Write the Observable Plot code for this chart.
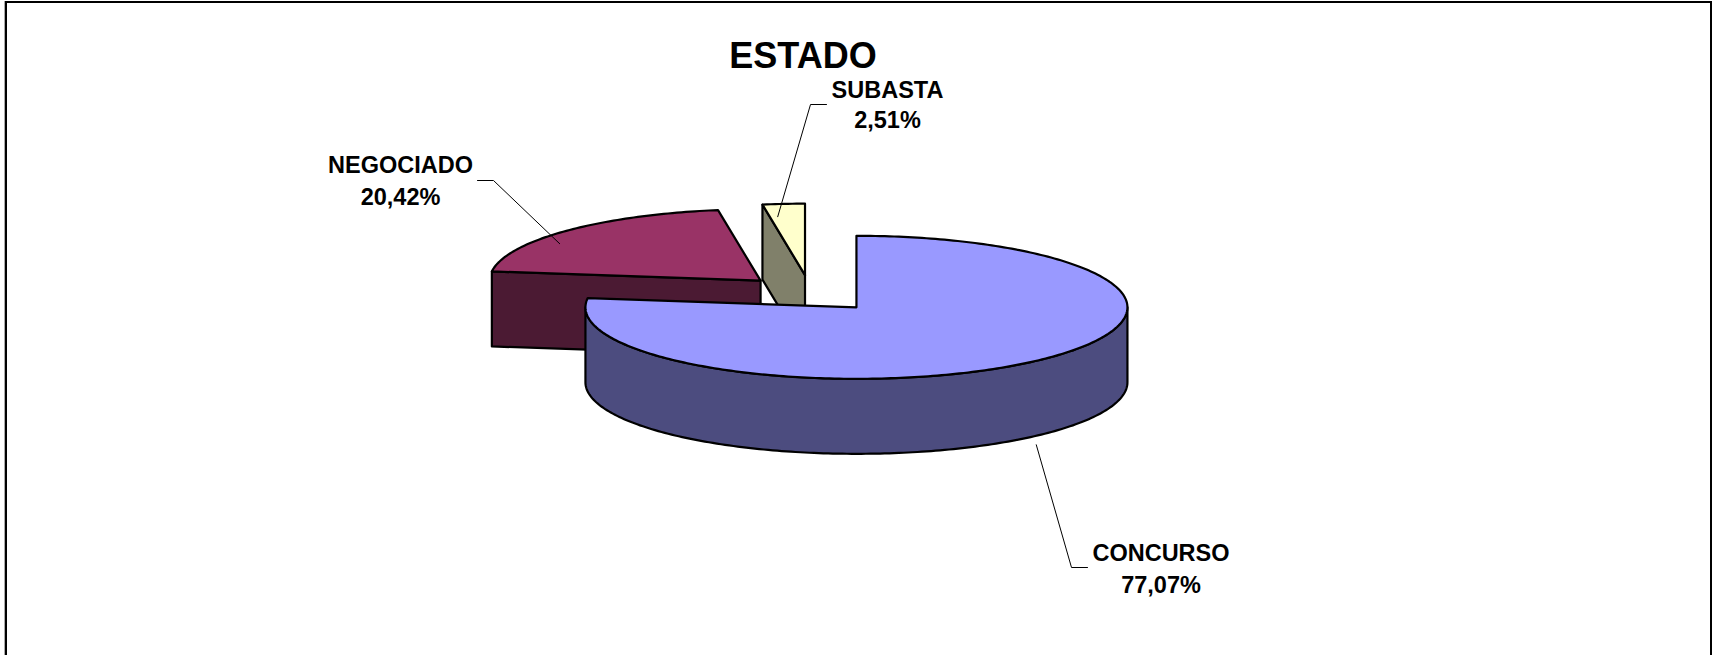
<!DOCTYPE html>
<html>
<head>
<meta charset="utf-8">
<script src="https://cdn.jsdelivr.net/npm/d3@7"></script>
<script src="https://cdn.jsdelivr.net/npm/@observablehq/plot@0.6"></script>
<style>
  html, body { margin: 0; padding: 0; background: #fff; overflow: hidden; }
  #frame { position: absolute; left: 5px; top: 1px; width: 1707px; height: 760px; border: 2px solid #000; box-sizing: border-box; box-shadow: -1px 0 0 #aaa; }
  #chart { position: absolute; left: 0; top: 0; }
</style>
</head>
<body>
<div id="frame"></div>
<div id="chart"></div>
<script>
// ---------------- data ----------------
const chartTitle = "ESTADO";
const categories = ["CONCURSO", "NEGOCIADO", "SUBASTA"];
const shares = [77.07, 20.42, 2.51];
const percentLabels = ["77,07%", "20,42%", "2,51%"];

// ---------------- style ----------------
const topColors = ["#9999FF", "#993366", "#FFFFCC"];
const sideColors = ["#4C4C7F", "#4B1A33", "#80806A"];
const labelFont = "Liberation Sans, Arial, Helvetica, sans-serif";

// ---------------- layout ----------------
const W = 1715, H = 655;
const PX = 271;                   // pixels per unit radius
const origin = {x: 810, y: 293};  // pie centre (px)
const tilt = 71.5 / 271;          // vertical squash of the pie
const depth = 75 / 271;           // thickness of the pie
const explode = 0.257;            // explosion of each slice (radius units)
// label layout: offsets from pie centre in px
const labelLayout = [
  {text: [350.5, 267, 299], elbow: [261, 274], end: [277, 274], start: {r: 1, dTheta: -0.3, z: 1, gap: 9}},
  {text: [-410, -120.5, -89], elbow: [-317, -113], end: [-333, -113], start: {r: 0.904, dTheta: -9.3, z: 0, gap: 0}},
  {text: [77, -196, -166], elbow: [0, -189], end: [16, -189], start: {r: 0.824, dTheta: -2.5, z: 0, gap: 0}}
];
const titlePos = [-7.5, -226];

const u = v => v / PX;
const rad = d => d * Math.PI / 180;

// slices from data
let acc = 0;
const slices = categories.map((name, i) => {
  const a0 = acc / 100 * 2 * Math.PI;
  acc += shares[i];
  const a1 = acc / 100 * 2 * Math.PI;
  const mid = (a0 + a1) / 2;
  const c = {x: explode * Math.sin(mid), y: -explode * Math.cos(mid) * tilt};
  return {name, i, a0, a1, mid, c};
});

const P = (c, r, th, z) => ({x: c.x + r * Math.sin(th), y: c.y - r * Math.cos(th) * tilt + z});
const arc = (c, from, to, z) => {
  const n = Math.max(2, Math.ceil(Math.abs(to - from) / rad(1)));
  return d3.range(n + 1).map(k => P(c, 1, from + (to - from) * k / n, z));
};

const faces = [];
const order = slices.slice().sort((a, b) => a.c.y - b.c.y);
for (const s of order) {
  const {c, a0, a1, i} = s;
  const radial = a => [P(c, 0, a, 0), P(c, 1, a, 0), P(c, 1, a, depth), P(c, 0, a, depth)];
  if (Math.sin(a0) < -1e-9) faces.push({fill: sideColors[i], pts: radial(a0)});
  if (Math.sin(a1) > 1e-9) faces.push({fill: sideColors[i], pts: radial(a1)});
  const lo = Math.max(a0, Math.PI / 2), hi = Math.min(a1, 3 * Math.PI / 2);
  if (hi > lo) faces.push({fill: sideColors[i], pts: [...arc(c, lo, hi, 0), ...arc(c, hi, lo, depth)]});
  faces.push({fill: topColors[i], pts: [P(c, 0, 0, 0), ...arc(c, a0, a1, 0)]});
}
faces.forEach(f => f.pts.push(f.pts[0]));

const faceMarks = faces.map(f => Plot.line(f.pts, {
  x: "x", y: "y", fill: f.fill, stroke: "#000", strokeWidth: 2.2, strokeLinejoin: "round", curve: "linear"
}));

// leaders and labels
const leaderRows = [];
const textRows = [];
slices.forEach(s => {
  const L = labelLayout[s.i];
  const st = P(s.c, L.start.r, s.mid + rad(L.start.dTheta), L.start.z * depth);
  leaderRows.push(
    {k: s.name, x: st.x, y: st.y + u(L.start.gap)},
    {k: s.name, x: u(L.elbow[0]), y: u(L.elbow[1])},
    {k: s.name, x: u(L.end[0]), y: u(L.end[1])}
  );
  textRows.push({x: u(L.text[0]), y: u(L.text[1]), t: s.name});
  textRows.push({x: u(L.text[0]), y: u(L.text[2]), t: percentLabels[s.i]});
});

const chart = Plot.plot({
  width: W, height: H,
  margin: 0,
  x: {domain: [-origin.x / PX, (W - origin.x) / PX], range: [0, W], axis: null},
  y: {domain: [-origin.y / PX, (H - origin.y) / PX], range: [0, H], axis: null},
  style: {background: "transparent", overflow: "visible"},
  marks: [
    ...faceMarks,
    Plot.line(leaderRows, {x: "x", y: "y", z: "k", stroke: "#000", strokeWidth: 1}),
    Plot.text(textRows, {x: "x", y: "y", text: "t", lineAnchor: "bottom", textAnchor: "middle",
      fontSize: 23.5, fontWeight: "bold", fontFamily: labelFont, fill: "#000"}),
    Plot.text([chartTitle], {x: u(titlePos[0]), y: u(titlePos[1]), text: d => d, lineAnchor: "bottom",
      textAnchor: "middle", fontSize: 36, fontWeight: "bold", fontFamily: labelFont, fill: "#000"})
  ]
});
document.getElementById("chart").appendChild(chart);
</script>
</body>
</html>
